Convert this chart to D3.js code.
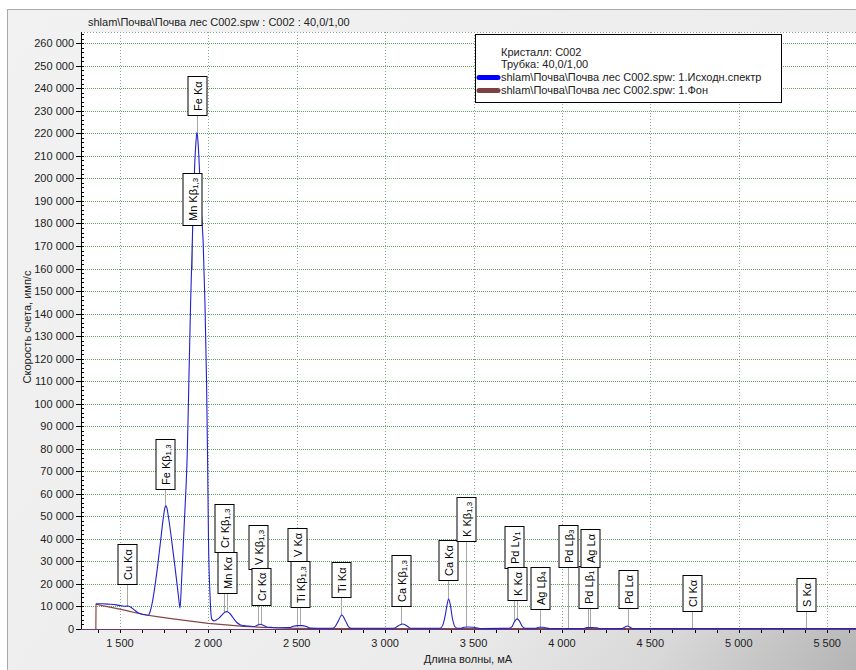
<!DOCTYPE html>
<html>
<head>
<meta charset="utf-8">
<script src="https://cdn.jsdelivr.net/npm/d3@7"></script>
<style>
  html, body { margin: 0; padding: 0; background: #ffffff; }
  svg { display: block; font-family: "Liberation Sans", Arial, sans-serif; }
</style>
</head>
<body>
<svg id="chart" width="856" height="670"></svg>
<script>
// ---- Texts ----
const chartTitle = "shlam\\Почва\\Почва лес C002.spw : C002 : 40,0/1,00";
const xTitle = "Длина волны, мА";
const yTitle = "Скорость счета, имп/с";
const legendInfo = ["Кристалл: C002", "Трубка: 40,0/1,00"];
const seriesNames = [
  "shlam\\Почва\\Почва лес C002.spw: 1.Исходн.спектр",
  "shlam\\Почва\\Почва лес C002.spw: 1.Фон"
];

// ---- Measured spectrum (wavelength, mÅ -> count rate, cps) ----
const spectrumWave = [
  1365, 1400, 1440, 1480, 1510, 1530, 1545, 1560, 1580, 1600, 1620, 1640, 1660,
  1672, 1685, 1700, 1715, 1730, 1745, 1755, 1760, 1765, 1775, 1790, 1806, 1820, 1832, 1840,
  1848, 1857, 1866, 1874, 1881, 1890, 1900, 1913, 1922, 1930, 1936, 1942, 1950, 1960,
  1971, 1981, 1990, 1996, 2001, 2010, 2019, 2032, 2045, 2060, 2080, 2095, 2105, 2120,
  2140, 2160, 2180, 2200, 2230, 2260, 2275, 2293, 2312, 2330, 2360, 2400, 2460, 2480,
  2505, 2530, 2555, 2575, 2650, 2700, 2715, 2735, 2755, 2775, 2795, 2810, 3050, 3070,
  3085, 3099, 3115, 3130, 3145, 3310, 3325, 3340, 3352, 3359, 3368, 3380, 3395, 3410,
  3430, 3445, 3470, 3500, 3525, 3540, 3700, 3715, 3730, 3746, 3760, 3775, 3790, 3850,
  3870, 3895, 3915, 3930, 4125, 4140, 4170, 4195, 4210, 4340, 4355, 4369, 4385, 4400,
  5663
];
const spectrumCounts = [
  11200, 11200, 11000, 10700, 10300, 10100, 10200, 9800, 8600, 7300, 6700, 6300, 6100,
  8000, 12500, 20000, 29000, 39000, 49000, 54000, 54700, 54000, 49500, 41000, 31000, 22000, 14000, 9300,
  20000, 35000, 50000, 63000, 78000, 110000, 145000, 182000, 204000, 216000, 220500, 216000, 204000, 186000,
  171500, 144700, 110000, 75000, 40000, 14400, 4500, 3600, 4000, 4800, 6500, 7500, 7700, 7000,
  5000, 3000, 1900, 1500, 1300, 1100, 1600, 2100, 1600, 900, 700, 550, 600, 1200,
  1500, 1500, 1100, 400, 300, 300, 800, 3500, 6200, 3800, 800, 300, 300, 1200,
  1900, 2200, 1800, 1000, 300, 300, 1500, 6000, 11500, 13300, 11000, 5000, 1000, 300,
  300, 800, 900, 800, 400, 250, 300, 800, 3000, 4500, 3500, 1200, 300, 300,
  800, 800, 400, 250, 250, 600, 650, 550, 250, 250, 800, 1300, 800, 250,
  200
];

// ---- Background ----
const backgroundWave = [
  1364, 1365, 1400, 1450, 1500, 1550, 1600, 1650, 1700, 1800, 1900, 2000, 2100, 2200,
  2300, 2400, 2500, 2600, 2800, 5663
];
const backgroundCounts = [
  0, 11000, 10400, 9600, 8800, 7900, 7000, 6200, 5600, 4500, 3500, 2500, 1800, 1200,
  750, 450, 280, 200, 150, 150
];

// ---- Line identification markers ("_" starts the subscript) ----
const lineNames = [
  "Cu Kα", "Fe Kβ_1,3", "Mn Kβ_1,3", "Fe Kα", "Cr Kβ_1,3", "Mn Kα", "V Kβ_1,3", "Cr Kα",
  "V Kα", "Ti Kβ_1,3", "Ti Kα", "Ca Kβ_1,3", "Ca Kα", "K Kβ_1,3", "Pd Lγ_1", "K Kα",
  "Ag Lβ_4", "Pd Lβ_3", "Pd Lβ_1", "Ag Lα", "Pd Lα", "Cl Kα", "S Kα"
];
const lineWave = [
  1540, 1757, 1905, 1936, 2089, 2106, 2281, 2298,
  2502, 2519, 2751, 3091, 3357, 3459, 3731, 3748,
  3878, 4037, 4150, 4161, 4371, 4733, 5379
];
// label box lower edge, in count-rate units
const labelBase = [
  20000, 62200, 179500, 228000, 34200, 16000, 26700, 10700,
  30200, 9800, 14200, 10200, 21800, 39100, 27100, 12900,
  8900, 27600, 9300, 27600, 9300, 8000, 8000
];

// ---- Axes ----
const xTicks = [1500, 2000, 2500, 3000, 3500, 4000, 4500, 5000, 5500];
const xMinorStep = 125;
const yMax = 265000;
const yMajorStep = 10000;
const yMinorStep = 2000;

// ---- Layout ----
const W = 856, H = 670;
const plot = { left: 81, top: 32, right: 856, bottom: 629 };

const svg = d3.select("#chart");
const defs = svg.append("defs");

const grad = defs.append("linearGradient")
  .attr("id", "panelGrad")
  .attr("gradientUnits", "userSpaceOnUse")
  .attr("x1", 0).attr("y1", 0).attr("x2", W).attr("y2", H);
grad.append("stop").attr("offset", "0").attr("stop-color", "#f2f2f2");
grad.append("stop").attr("offset", "0.68").attr("stop-color", "#ececec");
grad.append("stop").attr("offset", "0.85").attr("stop-color", "#d8d8d8");
grad.append("stop").attr("offset", "1").attr("stop-color", "#b4b4b4");

defs.append("clipPath").attr("id", "plotClip")
  .append("rect")
  .attr("x", plot.left).attr("y", plot.top)
  .attr("width", plot.right - plot.left).attr("height", plot.bottom - plot.top + 1);

// panel background
svg.append("rect").attr("width", W).attr("height", H).attr("fill", "#ffffff");
svg.append("rect")
  .attr("x", 7.5).attr("y", 9.5).attr("width", W).attr("height", H)
  .attr("fill", "url(#panelGrad)").attr("stroke", "#a9a9a9");

const x = d3.scaleLinear().domain([1280, 5663]).range([plot.left, plot.right]);
const y = d3.scaleLinear().domain([0, yMax]).range([plot.bottom, plot.top]);

// plot area
svg.append("rect")
  .attr("x", plot.left).attr("y", plot.top)
  .attr("width", plot.right - plot.left).attr("height", plot.bottom - plot.top)
  .attr("fill", "#ffffff");
svg.append("line")
  .attr("x1", plot.left).attr("x2", plot.right)
  .attr("y1", plot.top + 0.5).attr("y2", plot.top + 0.5)
  .attr("stroke", "#9a9a9a").attr("stroke-dasharray", "1,2");

const fmt = d3.formatLocale({ decimal: ",", thousands: " ", grouping: [3] }).format(",d");

// grid
const yMajors = d3.range(yMajorStep, yMax, yMajorStep);
svg.append("g").selectAll("line").data(yMajors).join("line")
  .attr("x1", plot.left + 2).attr("x2", plot.right)
  .attr("y1", d => Math.round(y(d)) + 0.5).attr("y2", d => Math.round(y(d)) + 0.5)
  .attr("stroke", "#5fa05f").attr("stroke-dasharray", "1,1");
svg.append("g").selectAll("line").data(xTicks).join("line")
  .attr("x1", d => Math.round(x(d)) + 0.5).attr("x2", d => Math.round(x(d)) + 0.5)
  .attr("y1", plot.top).attr("y2", plot.bottom)
  .attr("stroke", "#86a886").attr("stroke-dasharray", "1,2");

// y axis
const yAxis = svg.append("g");
yAxis.append("line")
  .attr("x1", plot.left + 0.5).attr("x2", plot.left + 0.5)
  .attr("y1", plot.top).attr("y2", plot.bottom)
  .attr("stroke", "#000");
yAxis.selectAll("line.minor").data(d3.range(0, yMax, yMinorStep)).join("line")
  .attr("class", "minor")
  .attr("x1", plot.left).attr("x2", plot.left + 3)
  .attr("y1", d => Math.round(y(d)) + 0.5).attr("y2", d => Math.round(y(d)) + 0.5)
  .attr("stroke", "#000");
const yLabelTicks = d3.range(0, 260001, yMajorStep);
yAxis.selectAll("line.major").data(yLabelTicks).join("line")
  .attr("class", "major")
  .attr("x1", plot.left - 5).attr("x2", plot.left + 3)
  .attr("y1", d => Math.round(y(d)) + 0.5).attr("y2", d => Math.round(y(d)) + 0.5)
  .attr("stroke", "#000");
yAxis.selectAll("text").data(yLabelTicks).join("text")
  .attr("x", plot.left - 7).attr("y", d => y(d) + 4)
  .attr("text-anchor", "end").attr("font-size", 11).attr("fill", "#222")
  .text(d => fmt(d));

// x axis
const xAxis = svg.append("g");
const xMinors = d3.range(xTicks[0] - xMinorStep, x.domain()[1], xMinorStep);
xAxis.selectAll("line.minor").data(xMinors).join("line")
  .attr("class", "minor")
  .attr("x1", d => Math.round(x(d)) + 0.5).attr("x2", d => Math.round(x(d)) + 0.5)
  .attr("y1", plot.bottom).attr("y2", plot.bottom + 4)
  .attr("stroke", "#000");
xAxis.selectAll("text").data(xTicks).join("text")
  .attr("x", d => x(d)).attr("y", 647)
  .attr("text-anchor", "middle").attr("font-size", 11).attr("fill", "#222")
  .text(d => fmt(d));

// titles
svg.append("text").attr("x", 88).attr("y", 26)
  .attr("font-size", 11).attr("fill", "#222").text(chartTitle);
svg.append("text").attr("x", 468).attr("y", 663)
  .attr("text-anchor", "middle").attr("font-size", 11).attr("fill", "#222").text(xTitle);
svg.append("text")
  .attr("transform", "translate(31,327) rotate(-90)")
  .attr("text-anchor", "middle").attr("font-size", 11).attr("fill", "#222").text(yTitle);

// series
const spectrum = spectrumWave.map((w, i) => [w, spectrumCounts[i]]);
const background = backgroundWave.map((w, i) => [w, backgroundCounts[i]]);
const lineGen = d3.line().x(d => x(d[0])).y(d => y(d[1]));

const series = svg.append("g").attr("clip-path", "url(#plotClip)");

// count rate of the spectrum at a given wavelength
const bis = d3.bisector(d => d[0]).left;
function spectrumAt(w) {
  const i = bis(spectrum, w);
  if (i <= 0) return spectrum[0][1];
  if (i >= spectrum.length) return spectrum[spectrum.length - 1][1];
  const a = spectrum[i - 1], b = spectrum[i];
  return a[1] + (b[1] - a[1]) * (w - a[0]) / (b[0] - a[0]);
}

// leader lines
const labels = lineNames.map((n, i) => ({ name: n, wave: lineWave[i], base: labelBase[i] }));
series.append("g").selectAll("line").data(labels).join("line")
  .attr("x1", d => Math.round(x(d.wave)) + 0.5).attr("x2", d => Math.round(x(d.wave)) + 0.5)
  .attr("y1", d => y(d.base)).attr("y2", d => y(spectrumAt(d.wave)))
  .attr("stroke", "#a8a8a8").attr("stroke-width", 1);

series.append("path").datum(background)
  .attr("d", lineGen.curve(d3.curveLinear))
  .attr("fill", "none").attr("stroke", "#8a4646").attr("stroke-width", 1.2);
series.append("path").datum(spectrum)
  .attr("d", lineGen.curve(d3.curveMonotoneX))
  .attr("fill", "none").attr("stroke", "#2222c8").attr("stroke-width", 1.1);

// x axis line on top of the baseline
svg.append("line")
  .attr("x1", plot.left).attr("x2", plot.right)
  .attr("y1", plot.bottom + 0.5).attr("y2", plot.bottom + 0.5)
  .attr("stroke", "#6a3a6a").attr("stroke-width", 1.2);

// line label boxes (rotated text)
const boxW = 19;
const lab = svg.append("g").selectAll("g").data(labels).join("g")
  .attr("transform", d => `translate(${Math.round(x(d.wave)) + 0.5},${Math.round(y(d.base)) + 0.5}) rotate(-90)`);
lab.each(function (d) {
  const g = d3.select(this);
  const rect = g.append("rect");
  const t = g.append("text").attr("x", 4.5).attr("y", 4)
    .attr("font-size", 11).attr("fill", "#000");
  const parts = d.name.split("_");
  t.append("tspan").text(parts[0]);
  if (parts[1]) {
    t.append("tspan").attr("font-size", 8).attr("dy", 1.5).text(parts[1]);
  }
  const len = t.node().getComputedTextLength();
  rect.attr("x", 0).attr("y", -boxW / 2)
    .attr("width", Math.round(len + 9)).attr("height", boxW)
    .attr("fill", "#ffffff").attr("stroke", "#000").attr("stroke-width", 1);
});

// legend
const lg = svg.append("g");
lg.append("rect").attr("x", 475.5).attr("y", 34.5).attr("width", 306).attr("height", 68)
  .attr("fill", "#ffffff").attr("stroke", "#000");
const legBase = [55.5, 68, 81, 94];
legendInfo.forEach((s, i) => {
  lg.append("text").attr("x", 501).attr("y", legBase[i])
    .attr("font-size", 11).attr("fill", "#222").text(s);
});
const swatchColors = ["#0000ff", "#7e4141"];
seriesNames.forEach((s, i) => {
  const yy = legBase[i + 2] - 3.5;
  lg.append("line").attr("x1", 479).attr("x2", 498).attr("y1", yy).attr("y2", yy)
    .attr("stroke", swatchColors[i]).attr("stroke-width", 5).attr("stroke-linecap", "round");
  lg.append("text").attr("x", 501).attr("y", legBase[i + 2])
    .attr("font-size", 11).attr("fill", "#222").text(s);
});
</script>
</body>
</html>
